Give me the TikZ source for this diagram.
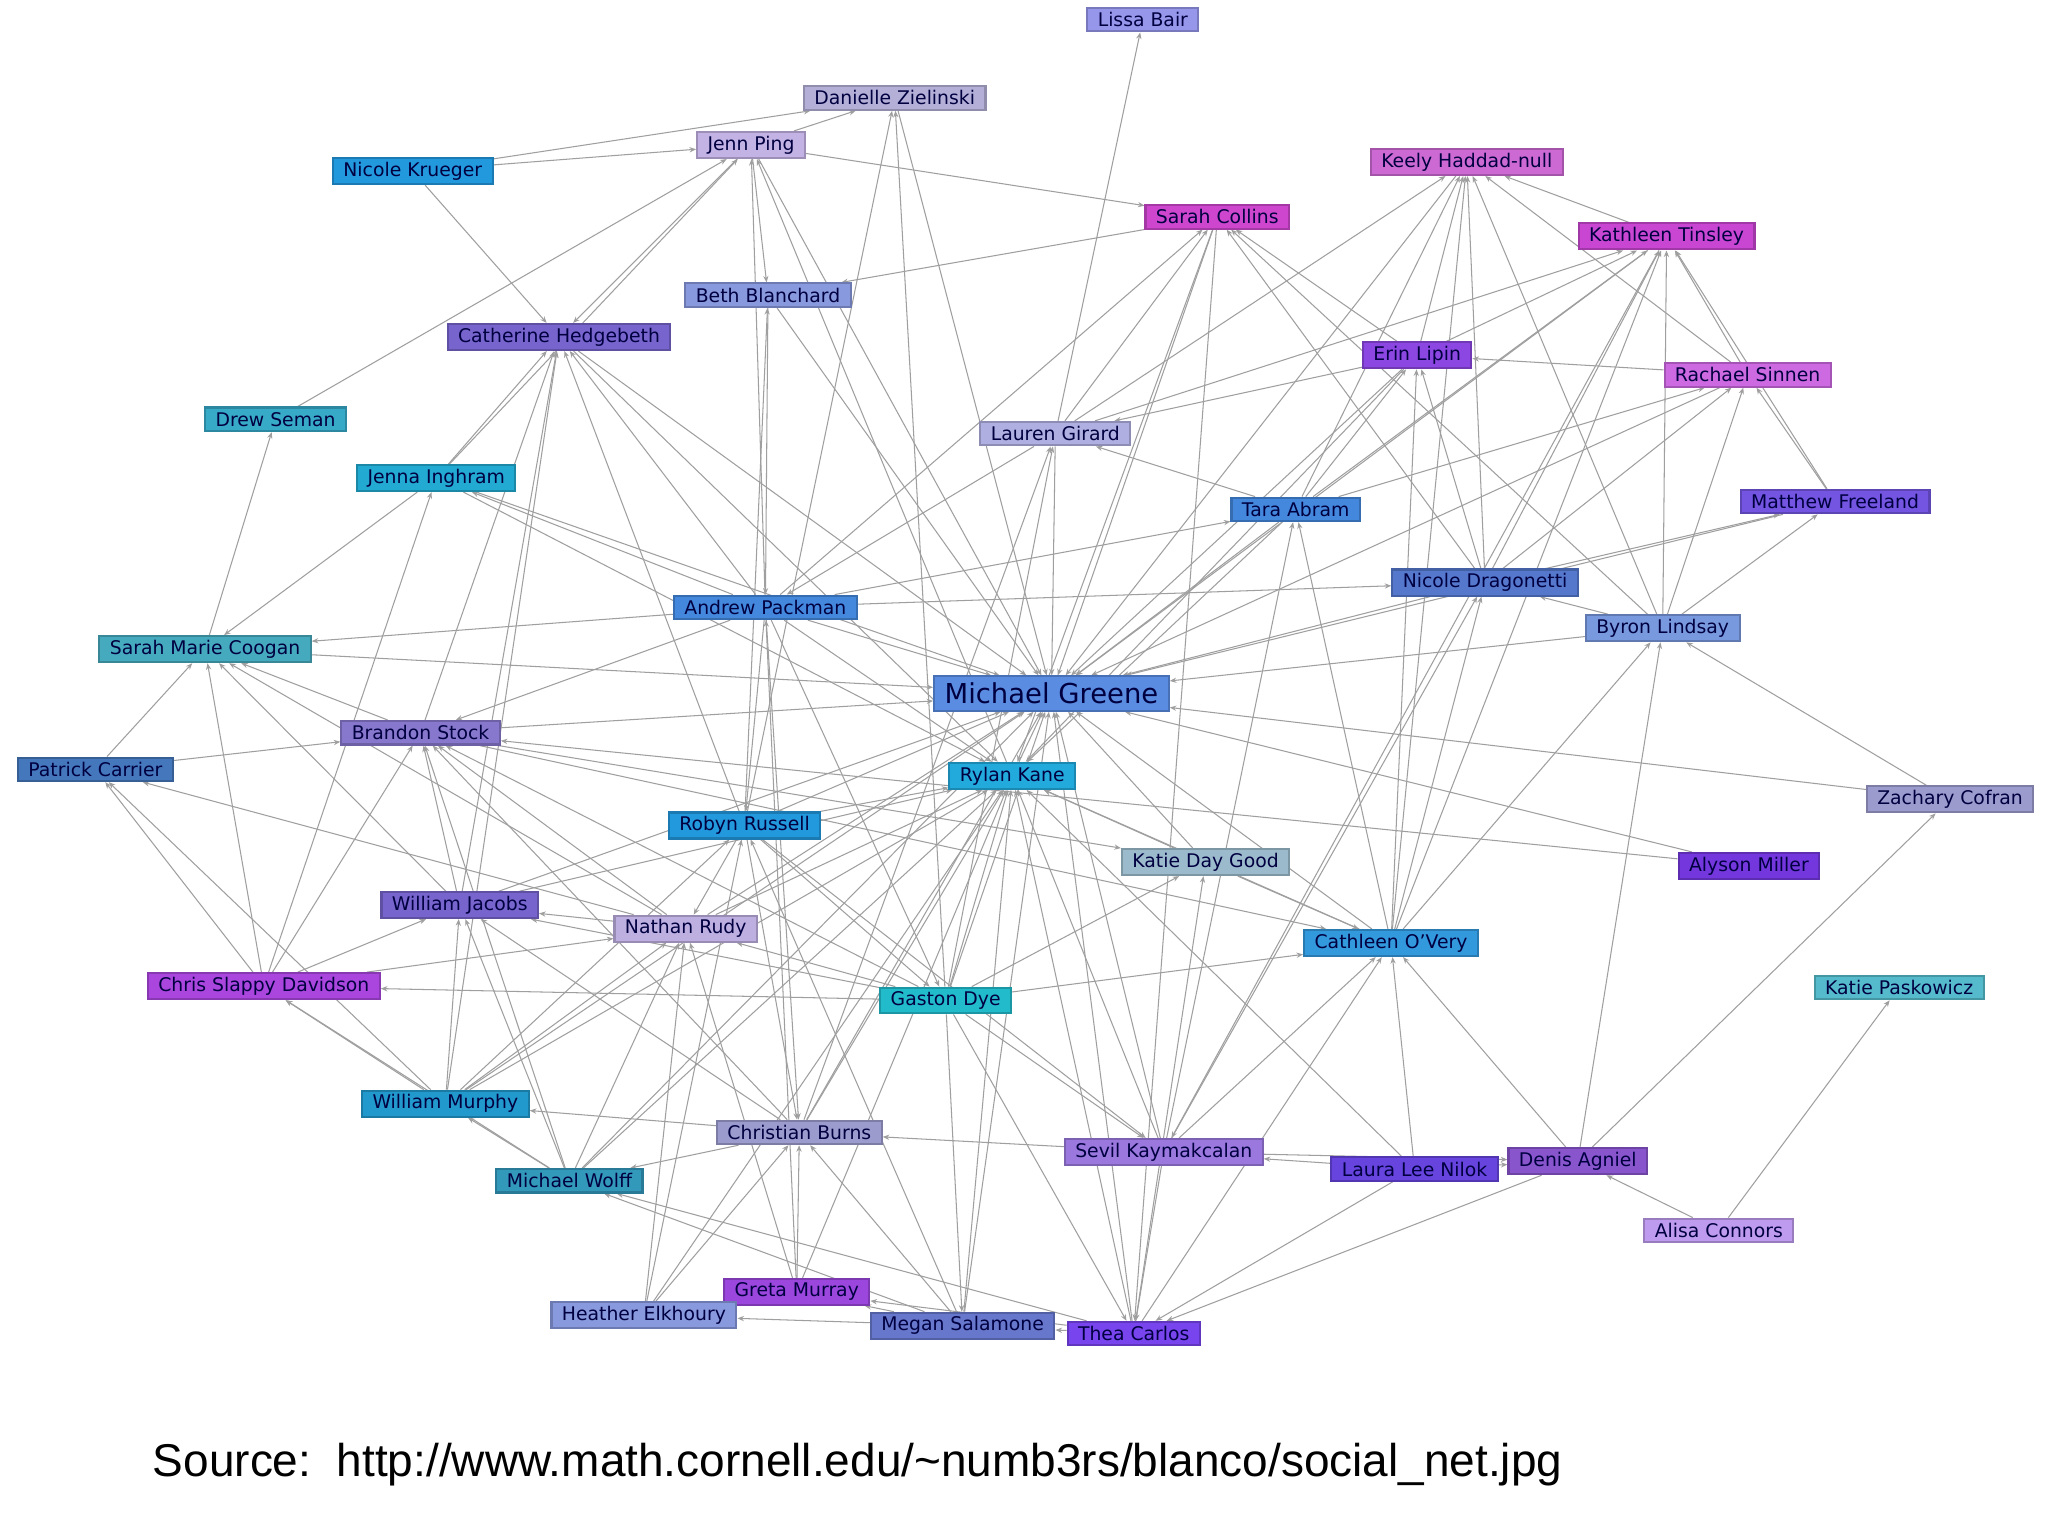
\documentclass[tikz,border=0pt]{standalone}
\usepackage{fontspec}
\setmainfont{DejaVu Sans}
\newfontfamily\srcfont{Liberation Sans}
\usetikzlibrary{arrows.meta,backgrounds}
\begin{document}
\begin{tikzpicture}[x=0.5pt,y=-0.5pt,
 pn/.style={/utils/exec={\definecolor{tmpc}{RGB}{#1}},fill=tmpc,draw=tmpc!80!black,line width=0.8pt,inner xsep=4pt,inner ysep=1.5pt,minimum height=9pt,font=\fontsize{7.2}{8}\selectfont,text=black!75!blue},
 ed/.style={draw=gray!75,line width=0.4pt,-{Stealth[length=2.5pt,width=2pt]}}]
\useasboundingbox (0,0) rectangle (1568,1175);
\node[pn={150,150,235}] (LB) at (875,15) {Lissa Bair};
\node[pn={180,175,215}] (DZ) at (685,75) {Danielle Zielinski};
\node[pn={195,178,228}] (JP) at (575,111) {Jenn Ping};
\node[pn={34,153,221}] (NK) at (316,131) {Nicole Krueger};
\node[pn={205,105,210}] (KH) at (1123,124) {Keely Haddad-null};
\node[pn={205,70,205}] (SC) at (932,166) {Sarah Collins};
\node[pn={200,70,210}] (KT) at (1276,181) {Kathleen Tinsley};
\node[pn={136,153,221}] (BB) at (588,226) {Beth Blanchard};
\node[pn={120,100,205}] (CH) at (428,258) {Catherine Hedgebeth};
\node[pn={140,70,225}] (EL) at (1085,272) {Erin Lipin};
\node[pn={205,105,225}] (RS) at (1338,287) {Rachael Sinnen};
\node[pn={55,170,200}] (DS) at (211,321) {Drew Seman};
\node[pn={175,175,225}] (LG) at (808,332) {Lauren Girard};
\node[pn={34,170,210}] (JI) at (334,366) {Jenna Inghram};
\node[pn={68,136,221}] (TA) at (992,390) {Tara Abram};
\node[pn={115,85,225}] (MF) at (1405,384) {Matthew Freeland};
\node[pn={85,120,205}] (ND) at (1137,446) {Nicole Dragonetti};
\node[pn={68,136,221}] (AP) at (586,465) {Andrew Packman};
\node[pn={120,153,221}] (BL) at (1273,481) {Byron Lindsay};
\node[pn={70,170,190}] (SMC) at (157,497) {Sarah Marie Coogan};
\node[pn={90,140,225},font=\fontsize{10.5}{12}\selectfont,inner ysep=2.5pt] (MG) at (805,531) {Michael Greene};
\node[pn={136,120,205}] (BS) at (322,561) {Brandon Stock};
\node[pn={68,119,187}] (PC) at (73,589) {Patrick Carrier};
\node[pn={34,170,221}] (RK) at (775,594) {Rylan Kane};
\node[pn={155,155,205}] (ZC) at (1493,612) {Zachary Cofran};
\node[pn={34,153,221}] (RR) at (570,632) {Robyn Russell};
\node[pn={155,187,205}] (KDG) at (923,660) {Katie Day Good};
\node[pn={115,55,221}] (AM) at (1339,663) {Alyson Miller};
\node[pn={120,100,205}] (WJ) at (352,693) {William Jacobs};
\node[pn={190,175,225}] (NR) at (525,711) {Nathan Rudy};
\node[pn={51,153,221}] (CO) at (1065,722) {Cathleen O'Very};
\node[pn={170,70,221}] (CD) at (202,755) {Chris Slappy Davidson};
\node[pn={34,187,204}] (GD) at (724,766) {Gaston Dye};
\node[pn={85,187,204}] (KP) at (1454,756) {Katie Paskowicz};
\node[pn={34,153,204}] (WM) at (341,845) {William Murphy};
\node[pn={155,155,205}] (CB) at (612,867) {Christian Burns};
\node[pn={155,120,221}] (SK) at (891,882) {Sevil Kaymakcalan};
\node[pn={102,68,221}] (LL) at (1083,895) {Laura Lee Nilok};
\node[pn={136,85,205}] (DA) at (1208,889) {Denis Agniel};
\node[pn={51,153,187}] (MW) at (436,904) {Michael Wolff};
\node[pn={190,155,238}] (AC) at (1316,942) {Alisa Connors};
\node[pn={155,70,221}] (GM) at (610,989) {Greta Murray};
\node[pn={136,153,221}] (HE) at (493,1007) {Heather Elkhoury};
\node[pn={102,119,204}] (MS) at (737,1015) {Megan Salamone};
\node[pn={120,68,238}] (TC) at (868,1021) {Thea Carlos};
\begin{scope}[on background layer]
\fill[white] (0,0) rectangle (1568,1175);
\foreach \a/\b in {LG/MG,TA/MG,ND/MG,BL/MG,AP/MG,BS/MG,RK/MG,RR/MG,KDG/MG,CO/MG,GD/MG,SK/MG,TC/MG,MS/MG,CB/MG,NR/MG,WJ/MG,SMC/MG,JP/MG,DZ/MG,EL/MG,KT/MG,SC/MG,KH/MG,RS/MG,MF/MG,AM/MG,ZC/MG,CH/MG,JI/MG,BB/MG,WM/MG,MW/MG,
AP/RK,RR/RK,NR/RK,WJ/RK,GD/RK,CB/RK,GM/RK,MS/RK,TC/RK,SK/RK,CO/RK,TA/RK,EL/RK,SC/RK,CH/RK,JI/RK,HE/RK,MW/RK,WM/RK,KDG/RK,LL/RK,
NK/JP,NK/DZ,JP/DZ,JP/SC,JP/BB,JP/CH,DS/JP,JI/JP,AP/JP,RK/JP,GD/DZ,RR/DZ,LG/LB,EL/KH,KT/KH,RS/KH,ND/KH,BL/KH,TA/KH,LG/KH,CO/KH,
EL/SC,ND/SC,LG/SC,AP/SC,BL/SC,EL/KT,RS/KT,MF/KT,ND/KT,BL/KT,TA/KT,CO/KT,LG/KT,RS/EL,ND/EL,CO/EL,TA/EL,MF/RS,ND/RS,BL/RS,TA/RS,BL/MF,ND/MF,
AP/ND,BL/ND,CO/ND,CO/TA,AP/TA,SK/TA,ZC/BL,CO/BL,DA/BL,DA/ZC,AC/KP,AC/DA,LL/DA,SK/DA,DA/CO,LL/CO,SK/CO,GD/CO,TC/CO,KDG/CO,GD/KDG,BS/KDG,AM/BS,BS/CO,
JI/CH,AP/CH,BS/CH,WJ/CH,RR/CH,NK/CH,WM/CH,SMC/DS,JI/SMC,AP/JI,CD/JI,PC/SMC,AP/SMC,WJ/SMC,CD/SMC,NR/SMC,BS/SMC,PC/BS,CD/PC,WM/PC,NR/PC,
WJ/BS,NR/BS,CB/BS,MW/BS,GD/BS,AP/BS,CD/BS,NR/WJ,CD/WJ,WM/WJ,MW/WJ,CB/WJ,GD/WJ,CD/NR,WM/NR,MW/NR,HE/NR,GM/NR,RR/NR,GD/NR,GD/CD,WM/CD,MW/CD,
CB/WM,MW/WM,CB/MW,TC/MW,MS/MW,SK/CB,GM/CB,MS/CB,HE/CB,RR/CB,AP/CB,HE/GM,MS/GM,TC/GM,MS/HE,TC/MS,SK/TC,LL/TC,DA/TC,GD/TC,LL/SK,GD/SK,RR/SK,
RR/GD,AP/GD,AP/RR,WM/RR,BB/AP,LG/AP,SC/BB,RR/BB,EL/LG,TA/LG,GM/AP,HE/RR,MS/RR,GD/MS,TC/KDG,SK/ND,GD/LG,CB/LG,KT/SK,SC/TC}
 \draw[ed] (\a) -- (\b);
\end{scope}
\node[font=\srcfont\fontsize{17.6}{19}\selectfont,anchor=west] (src) at (110,1121) {Source:\ \ http://www.math.cornell.edu/\string~numb3rs/blanco/social\_net.jpg};
\end{tikzpicture}
\end{document}
